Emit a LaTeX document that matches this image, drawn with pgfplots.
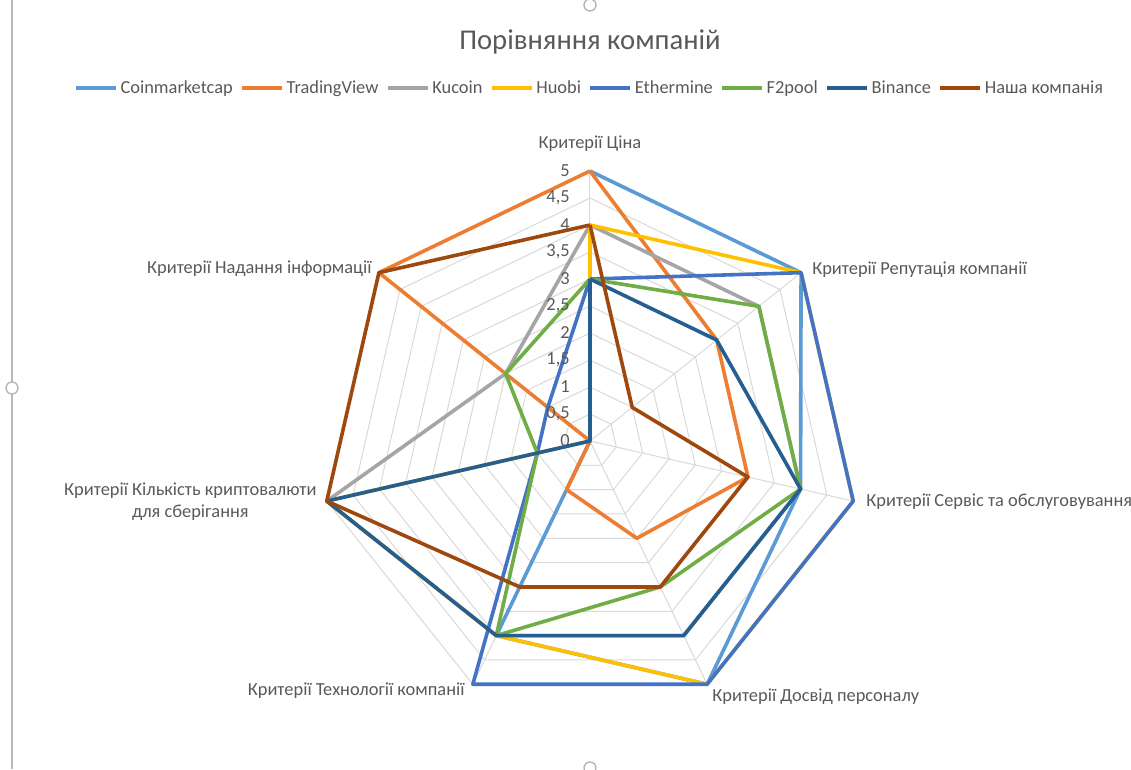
\documentclass[border=0pt]{standalone}
\usepackage{fontspec}
\setmainfont{Carlito}
\usepackage{pgfplots}
\usepackage{pgfplotstable}
\pgfplotsset{compat=1.18}
\usepgfplotslibrary{polar}

\definecolor{cCoin}{HTML}{5B9BD5}
\definecolor{cTrad}{HTML}{ED7D31}
\definecolor{cKuc}{HTML}{A5A5A5}
\definecolor{cHuo}{HTML}{FFC000}
\definecolor{cEth}{HTML}{4472C4}
\definecolor{cF2}{HTML}{70AD47}
\definecolor{cBin}{HTML}{255E91}
\definecolor{cOur}{HTML}{9E480E}
\definecolor{txt}{HTML}{595959}
\definecolor{gridc}{HTML}{D9D9D9}

\newcommand{\lab}{\fontsize{13.8}{16.5}\selectfont}

% angle of each criterion (clockwise from the top), then the scores
\pgfplotstableread{
a       coin trad kuc huo eth f2 bin our
90      5    5    4   4   3   3  3   4
38.571  5    3    4   5   5   4  3   1
347.143 4    3    4   5   5   4  4   3
295.714 5    2    4   5   5   3  4   3
244.286 4    1    4   4   5   4  4   3
192.857 0    0    5   5   1   1  5   5
141.429 nan  5    2   0   1   2  0   5
90      5    5    4   4   3   3  3   4
}\scores

\begin{document}
\begin{tikzpicture}
\begin{polaraxis}[
  at={(0pt,0pt)}, anchor=center,
  scale only axis, width=405pt, height=405pt,
  ymin=0, ymax=5,
  hide axis, clip=false,
  unbounded coords=jump,
  legend columns=8,
  legend style={at={(0.5,1.1537)}, anchor=center, draw=none, fill=none,
    font=\lab, text=txt, inner sep=0pt,
    /tikz/every even column/.append style={column sep=3.6pt}},
  legend image code/.code={\draw[#1, line width=2.8pt] (0pt,0pt) -- (30pt,0pt);},
  every axis plot/.append style={line width=2.7pt, line join=round, mark=none},
]
  % heptagon grid and spokes
  \pgfplotsinvokeforeach{0.5,1,1.5,2,2.5,3,3.5,4,4.5,5}{
    \addplot[gridc, line width=0.75pt, forget plot] coordinates
      {(90,#1) (38.571,#1) (347.143,#1) (295.714,#1) (244.286,#1) (192.857,#1) (141.429,#1) (90,#1)};
  }
  \pgfplotsinvokeforeach{90,38.571,347.143,295.714,244.286,192.857,141.429}{
    \addplot[gridc, line width=0.75pt, forget plot] coordinates {(#1,0) (#1,5)};
  }

  \addplot[cCoin] table[x=a, y=coin] {\scores};
  \addplot[cTrad] table[x=a, y=trad] {\scores};
  \addplot[cKuc]  table[x=a, y=kuc]  {\scores};
  \addplot[cHuo]  table[x=a, y=huo]  {\scores};
  \addplot[cEth]  table[x=a, y=eth]  {\scores};
  \addplot[cF2]   table[x=a, y=f2]   {\scores};
  \addplot[cBin]  table[x=a, y=bin]  {\scores};
  \addplot[cOur]  table[x=a, y=our]  {\scores};
  \legend{Coinmarketcap, TradingView, Kucoin, Huobi, Ethermine, F2pool, Binance, Наша компанія}

  % radial scale
  \pgfplotsinvokeforeach{0,0.5,1,1.5,2,2.5,3,3.5,4,4.5,5}{
    \node[anchor=east, font=\lab, text=txt, inner sep=0pt, xshift=-15pt]
      at (axis cs:90,#1) {\pgfmathprintnumber[use comma, assume math mode=true]{#1}};
  }

  % criteria
  \begin{scope}[every node/.style={font=\lab, text=txt, inner sep=0pt}]
  \node[anchor=center, yshift=20.25pt] at (axis cs:90,5) {Критерії Ціна};
  \node[anchor=west, xshift=8.25pt, yshift=2.25pt] at (axis cs:38.571,5) {Критерії Репутація компанії};
  \node[anchor=west, xshift=9.75pt, yshift=-0.75pt] at (axis cs:347.143,5) {Критерії Сервіс та обслуговування};
  \node[anchor=west, xshift=3.75pt, yshift=-9pt] at (axis cs:295.714,5) {Критерії Досвід персоналу};
  \node[anchor=east, xshift=-6pt, yshift=-4.5pt] at (axis cs:244.286,5) {Критерії Технології компанії};
  \node[anchor=east, align=center, xshift=-7.5pt, yshift=-0.75pt] at (axis cs:192.857,5)
    {Критерії Кількість криптовалюти\\для сберігання};
  \node[anchor=east, xshift=-5.25pt, yshift=3pt] at (axis cs:141.429,5) {Критерії Надання інформації};
  \end{scope}
\end{polaraxis}

\node[font=\fontsize{21.5}{25}\selectfont, text=txt] at (0pt,299.25pt) {Порівняння компаній};

% chart frame handles
\draw[gray!55, line width=1.2pt] (-433.5pt,-246pt) -- (-433.5pt,330.75pt);
\draw[gray!60, line width=1pt, fill=white] (-433.5pt,39.75pt) circle (4.5pt);
\draw[gray!60, line width=1pt, fill=white] (0pt,327pt) circle (4.5pt);
\draw[gray!60, line width=1pt, fill=white] (0pt,-245.25pt) circle (4.5pt);

\pgfresetboundingbox
\path[use as bounding box] (-442.5pt,-246pt) rectangle (405.75pt,330.75pt);
\end{tikzpicture}
\end{document}
